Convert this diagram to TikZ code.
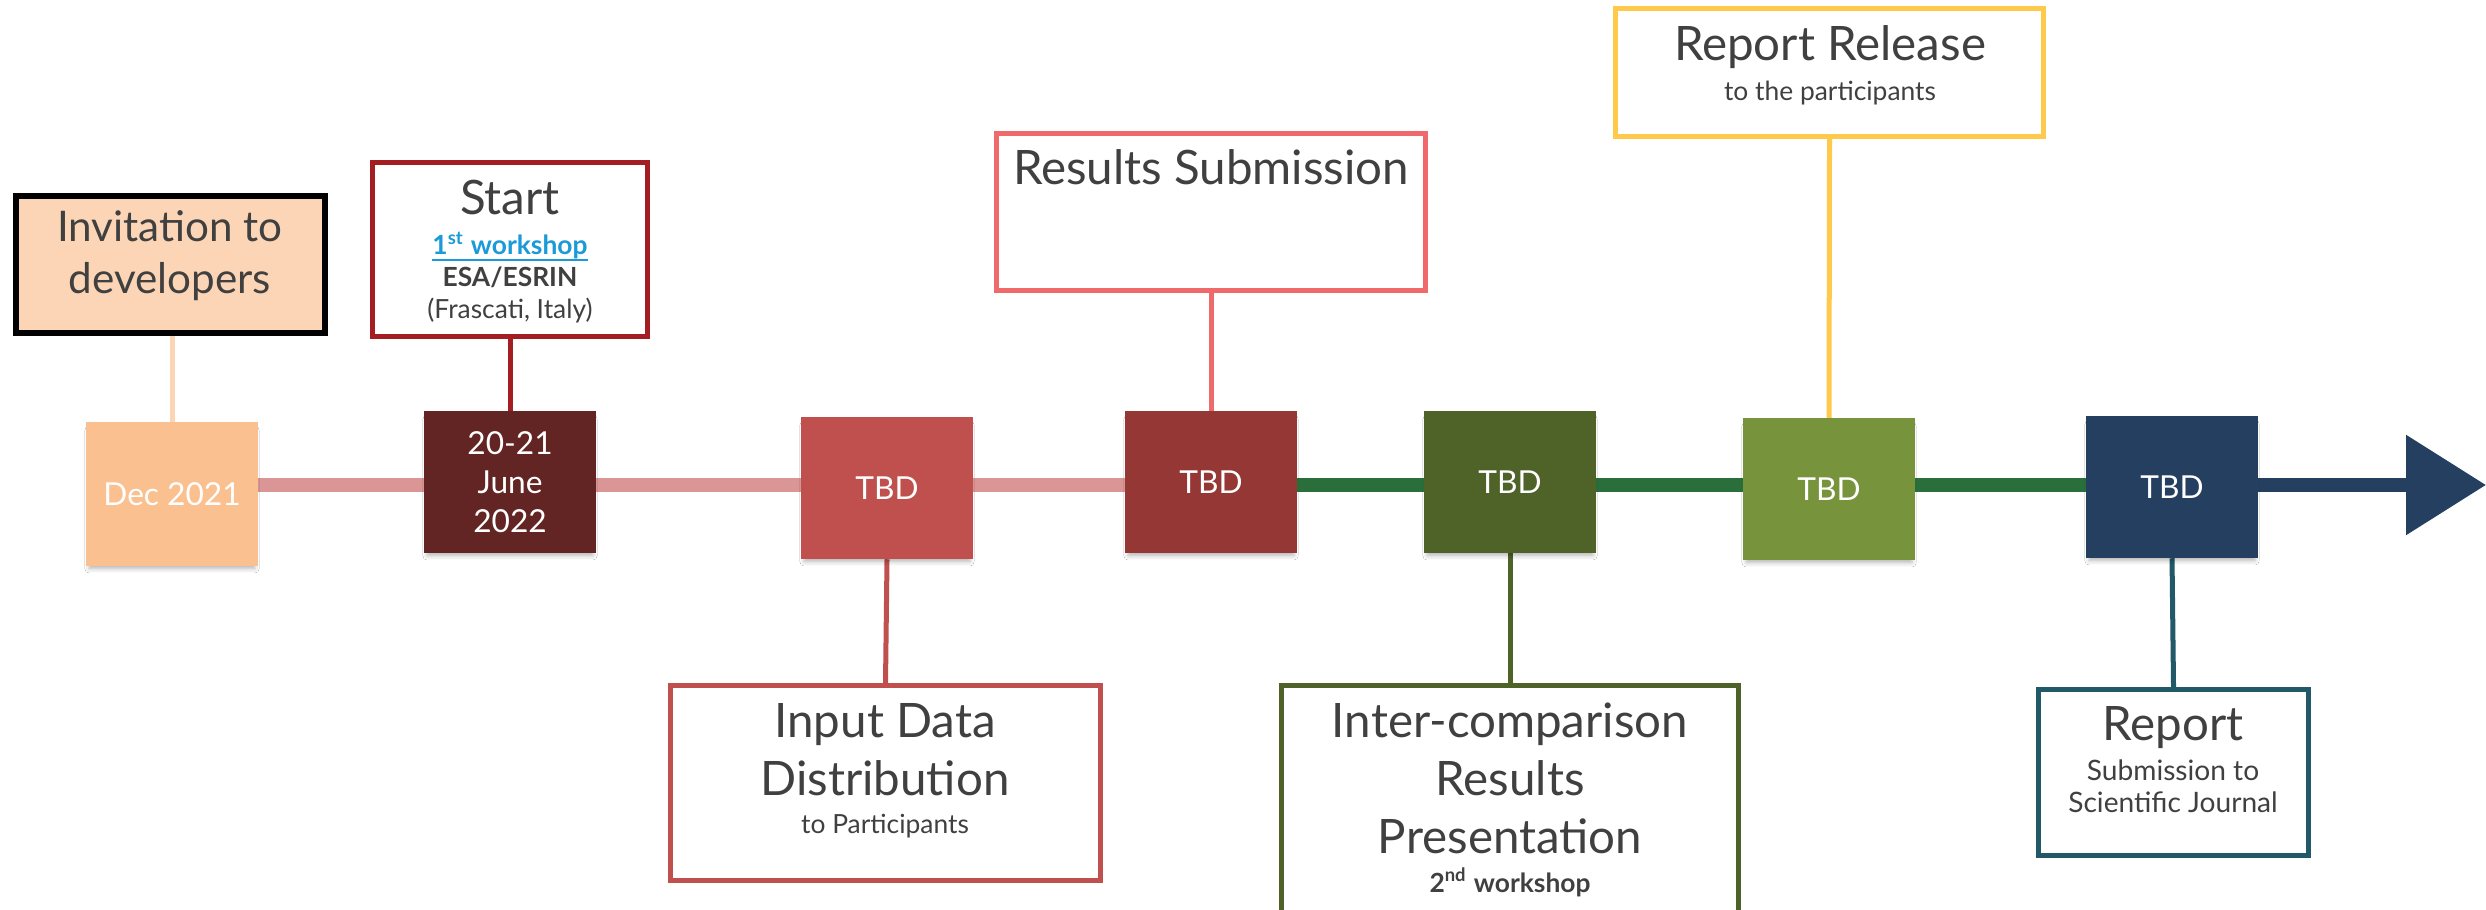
\documentclass[tikz,border=0pt]{standalone}
\usepackage{fontspec}
\setmainfont{Lato}
\usetikzlibrary{arrows.meta,backgrounds,shadows.blur}

\definecolor{inkgray}{HTML}{404040}
\definecolor{peachLight}{HTML}{FBD5B5}
\definecolor{peachDark}{HTML}{FAC090}
\definecolor{startRed}{HTML}{A31D22}
\definecolor{juneRed}{HTML}{632523}
\definecolor{tbdRedA}{HTML}{C0504D}
\definecolor{tbdRedB}{HTML}{953735}
\definecolor{resRed}{HTML}{F0696B}
\definecolor{pinkRail}{HTML}{D99694}
\definecolor{greenRail}{HTML}{2A6F3B}
\definecolor{oliveDark}{HTML}{4F6228}
\definecolor{oliveLight}{HTML}{77933C}
\definecolor{goldLine}{HTML}{FFC94C}
\definecolor{navy}{HTML}{243F60}
\definecolor{tealLine}{HTML}{215968}
\definecolor{linkblue}{HTML}{1A9BD7}

\begin{document}
\begin{tikzpicture}[x=0.01cm,y=-0.01cm,
  datebox/.style={fill=#1, minimum width=1.71cm, minimum height=1.41cm,
    inner sep=0pt, text=white, align=center,
    font=\fontsize{9}{11}\selectfont,
    blur shadow={shadow xshift=0pt, shadow yshift=-1.6pt, shadow scale=0.97,
      shadow opacity=28, shadow blur radius=1.2pt}},
  framebox/.style={draw=#1, line width=0.05cm, fill=white, inner sep=0pt},
  headtext/.style={text=inkgray, font=\fontsize{13.5}{16}\selectfont,
    inner sep=0pt, anchor=base},
  subtext/.style={text=inkgray, font=\fontsize{7.5}{9}\selectfont,
    inner sep=0pt, anchor=base},
  stem/.style={draw=#1, line width=0.05cm},
  rail/.style={draw=#1, line width=0.13cm}
]
\useasboundingbox (0,0) rectangle (2486,910);
\clip (0,0) rectangle (2486,910);

% ---- milestone boxes on the time line ----
\node[datebox=peachDark, minimum height=1.43cm] (dec) at (172,494) {Dec 2021};
\node[datebox=juneRed] (jun) at (510,482) {20-21\\June\\2022};
\node[datebox=tbdRedA] (tbd1) at (887,488) {TBD};
\node[datebox=tbdRedB] (tbd2) at (1211,482) {TBD};
\node[datebox=oliveDark] (tbd3) at (1510,482) {TBD};
\node[datebox=oliveLight] (tbd4) at (1829,489) {TBD};
\node[datebox=navy] (tbd5) at (2172,487) {TBD};

% ---- description frames ----
\node[framebox=black, line width=0.06cm, fill=peachLight,
      minimum width=3.09cm, minimum height=1.37cm] (inv) at (170.5,264.5) {};
\node[framebox=startRed, minimum width=2.75cm, minimum height=1.74cm] (start) at (510,249.5) {};
\node[framebox=resRed, minimum width=4.29cm, minimum height=1.57cm] (res) at (1211,212) {};
\node[framebox=goldLine, minimum width=4.28cm, minimum height=1.28cm] (rel) at (1829.5,72.5) {};
\node[framebox=tbdRedA, minimum width=4.30cm, minimum height=1.95cm] (inp) at (885.5,783) {};
\node[framebox=oliveDark, minimum width=4.57cm, minimum height=2.545cm] (inter) at (1510,812.75) {};
\node[framebox=tealLine, minimum width=2.70cm, minimum height=1.66cm] (rep) at (2173.5,772.5) {};

% ---- texts of the frames ----
\node[headtext, font=\fontsize{12}{15}\selectfont] (invA) at (170,242) {Invitation to};
\node[headtext, font=\fontsize{12}{15}\selectfont] (invB) at (170,294) {developers};

\node[headtext] (stA) at (510,215) {Start};
\node[subtext, text=linkblue, font=\fontsize{7.5}{9}\selectfont\bfseries]
  (stB) at (510,255) {\underline{\smash{1\textsuperscript{st} workshop}}};
\node[subtext, font=\fontsize{7.5}{9}\selectfont\bfseries] (stC) at (510,287) {ESA/ESRIN};
\node[subtext] (stD) at (510,319) {(Frascati, Italy)};

\node[headtext] (resA) at (1211,185) {Results Submission};

\node[headtext] (relA) at (1830,61) {Report Release};
\node[subtext] (relB) at (1830,101) {to the participants};

\node[headtext] (inpA) at (885,737) {Input Data};
\node[headtext] (inpB) at (885,795) {Distribution};
\node[subtext] (inpC) at (885,833) {to Participants};

\node[headtext] (intA) at (1510,737) {Inter-comparison};
\node[headtext] (intB) at (1510,795) {Results};
\node[headtext] (intC) at (1510,853) {Presentation};
\node[subtext, font=\fontsize{7.5}{9}\selectfont\bfseries] (intD) at (1510,892) {2\textsuperscript{nd} workshop};

\node[headtext] (repA) at (2173,740) {Report};
\node[subtext, font=\fontsize{8}{9}\selectfont] (repB) at (2173,780) {Submission to};
\node[subtext, font=\fontsize{8}{9}\selectfont] (repC) at (2173,812) {Scientific Journal};

% ---- time line and stems, behind the boxes ----
\coordinate (railL) at (0,485);
\coordinate (railR) at (2486,485);
\begin{scope}[on background layer]
  \fill[white] (0,0) rectangle (2486,910);
  \draw[rail=pinkRail] (dec.center |- railL) -- (tbd2.center |- railL);
  \draw[rail=greenRail] (tbd2.center |- railL) -- (tbd5.center |- railL);
  \draw[rail=navy, -{Triangle[length=0.80cm, width=0.97cm]}]
    (tbd5.center |- railL) -- (railR);

  \draw[stem=peachLight] (dec.north |- inv.south) -- (dec.north);
  \draw[stem=startRed] (start.south) -- (jun.north);
  \draw[stem=tbdRedA] (tbd1.south) -- (inp.north);
  \draw[stem=resRed] (res.south) -- (tbd2.north);
  \draw[stem=oliveDark] (tbd3.south) -- (inter.north);
  \draw[stem=goldLine] (rel.south) -- (tbd4.north);
  \draw[stem=tealLine] (tbd5.south) -- (rep.north);
\end{scope}
\end{tikzpicture}
\end{document}
